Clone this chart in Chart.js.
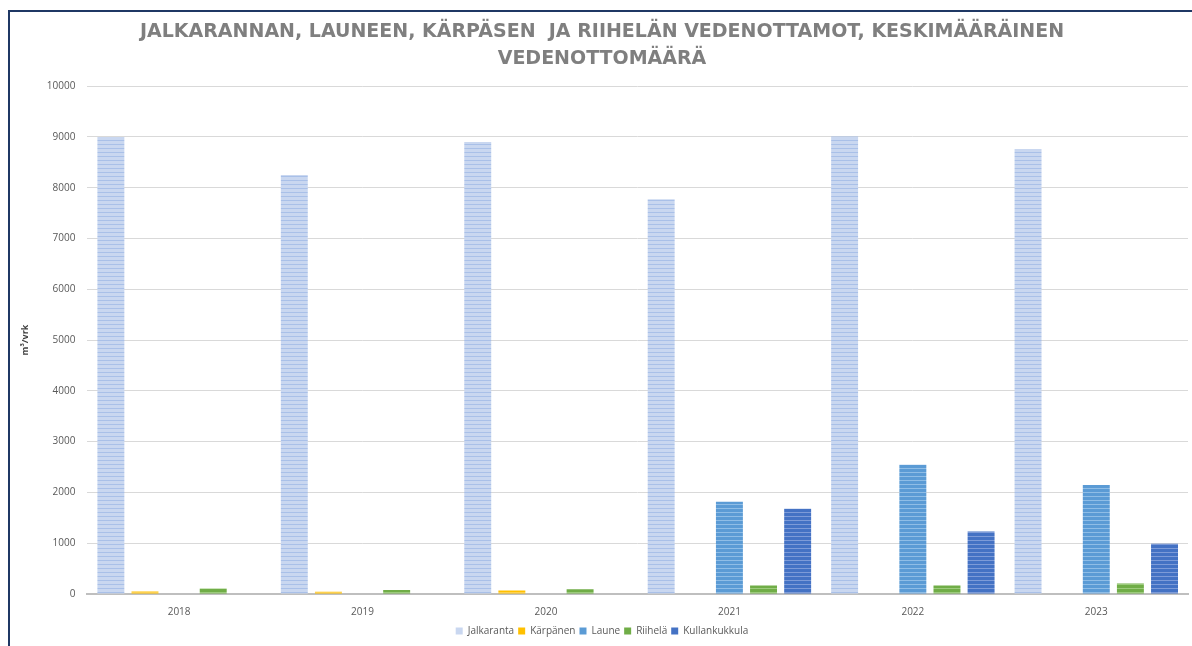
<!DOCTYPE html>
<html>
<head>
<meta charset="utf-8">
<script src="https://cdn.jsdelivr.net/npm/chart.js@4.4.1/dist/chart.umd.min.js"></script>
<style>
  html, body { margin: 0; padding: 0; background: #fff; }
  #frame {
    position: absolute; left: 8px; top: 10px;
    width: 1184px; height: 636px;
    border-top: 2px solid #1f3864; border-left: 2px solid #1f3864;
    box-sizing: border-box;
  }
  #wrap { position: absolute; left: 0; top: 0; width: 1182px; height: 634px; }
</style>
</head>
<body>
<div id="frame"><div id="wrap"><canvas id="waterChart"></canvas></div></div>
<script>
const years = ['2018', '2019', '2020', '2021', '2022', '2023'];
const jalkaranta = [9000, 8250, 8900, 7770, 9010, 8760];
const karpanen = [50, 45, 70, null, null, null];
const laune = [null, null, null, 1815, 2545, 2145];
const riihela = [110, 80, 95, 165, 165, 205];
const kullankukkula = [null, null, null, 1680, 1230, 990];
const yTicks = [0, 1000, 2000, 3000, 4000, 5000, 6000, 7000, 8000, 9000, 10000];

// striped fill like the original Excel bars
function stripes(base, line) {
  const c = document.createElement('canvas');
  c.width = 4; c.height = 4;
  const g = c.getContext('2d');
  g.fillStyle = base;
  g.fillRect(0, 0, 4, 4);
  g.fillStyle = line;
  g.fillRect(0, 0, 4, 1);
  return g.createPattern(c, 'repeat');
}

const colors = {
  jalkaranta: ['#c9d7f0', '#a9c0e8'],
  karpanen: ['#ffc000', '#ffd24d'],
  laune: ['#5b9bd5', '#8fbde6'],
  riihela: ['#70ad47', '#9ccb7c'],
  kullankukkula: ['#4472c4', '#7d9bd8'],
};

function ds(label, data, key) {
  return {
    label: label,
    data: data,
    backgroundColor: stripes(colors[key][0], colors[key][1]),
    legendColor: colors[key][0],
    borderWidth: 0,
  };
}

document.addEventListener('DOMContentLoaded', function () {
  const ctx = document.getElementById('waterChart').getContext('2d');

  new Chart(ctx, {
    type: 'bar',
    data: {
      labels: years,
      datasets: [
        ds('Jalkaranta', jalkaranta, 'jalkaranta'),
        ds('Kärpänen', karpanen, 'karpanen'),
        ds('Laune', laune, 'laune'),
        ds('Riihelä', riihela, 'riihela'),
        ds('Kullankukkula', kullankukkula, 'kullankukkula'),
      ],
    },
    options: {
      responsive: true,
      maintainAspectRatio: false,
      animation: false,
      datasets: {
        bar: { categoryPercentage: 0.93, barPercentage: 0.79 },
      },
      layout: { padding: { left: 6, right: 4, top: 2, bottom: 0 } },
      plugins: {
        title: {
          display: true,
          text: ['JALKARANNAN, LAUNEEN, KÄRPÄSEN  JA RIIHELÄN VEDENOTTAMOT, KESKIMÄÄRÄINEN', 'VEDENOTTOMÄÄRÄ'],
          color: '#7f7f7f',
          font: { family: 'DejaVu Sans', size: 19, weight: 'bold', lineHeight: 1.45 },
          padding: { top: 4, bottom: 13 },
        },
        legend: {
          position: 'bottom',
          labels: {
            color: '#595959',
            font: { family: 'Open Sans', size: 10 },
            boxWidth: 7,
            boxHeight: 7,
            padding: 4,
            generateLabels: function (chart) {
              return chart.data.datasets.map(function (d, i) {
                return {
                  text: d.label,
                  fillStyle: d.legendColor,
                  strokeStyle: d.legendColor,
                  lineWidth: 0,
                  datasetIndex: i,
                  fontColor: '#595959',
                };
              });
            },
          },
        },
        tooltip: { enabled: false },
      },
      scales: {
        x: {
          grid: { display: false },
          border: { color: '#bfbfbf', width: 2 },
          ticks: { color: '#595959', font: { family: 'Open Sans', size: 10 }, padding: 4 },
        },
        y: {
          min: 0,
          max: 10000,
          afterBuildTicks: function (axis) {
            axis.ticks = yTicks.map(function (v) { return { value: v }; });
          },
          grid: { color: '#d9d9d9', drawTicks: false },
          border: { display: false },
          ticks: {
            color: '#595959',
            font: { family: 'Open Sans', size: 10 },
            padding: 12,
            callback: function (v) { return String(v); },
          },
          title: {
            display: true,
            text: 'm³/vrk',
            color: '#404040',
            font: { family: 'Open Sans', size: 9, weight: 'bold' },
            padding: { bottom: 4 },
          },
        },
      },
    },
  });
});
</script>
</body>
</html>
